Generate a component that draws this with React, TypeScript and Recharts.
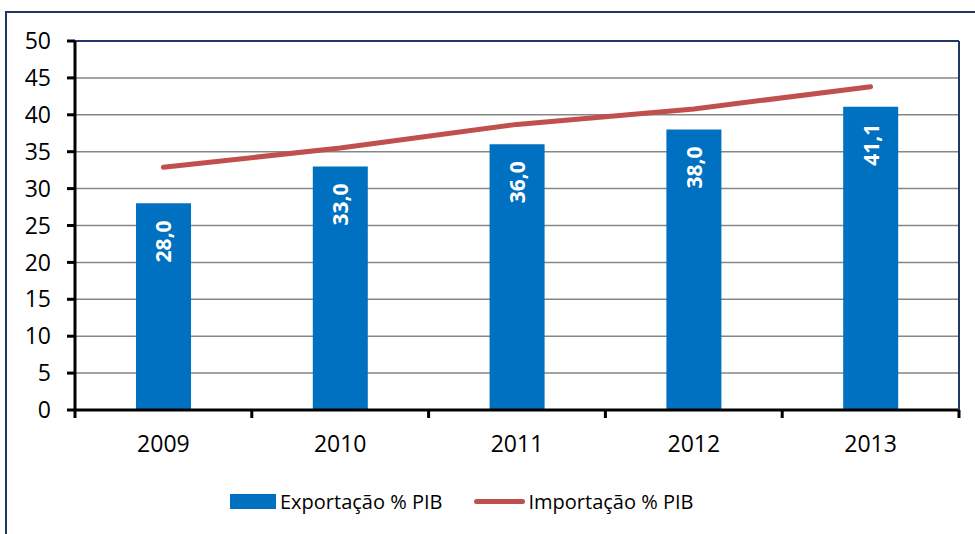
import {
  ComposedChart,
  Bar,
  Line,
  XAxis,
  YAxis,
  CartesianGrid,
  ReferenceLine,
  LabelList,
} from "recharts";

const years = ["2009", "2010", "2011", "2012", "2013"];
const exportacao = [28.0, 33.0, 36.0, 38.0, 41.1];
const importacao = [32.9, 35.5, 38.7, 40.8, 43.8];
const yTicks = [0, 5, 10, 15, 20, 25, 30, 35, 40, 45, 50];

const data = years.map((year, i) => ({
  year,
  exportacao: exportacao[i],
  importacao: importacao[i],
}));

const FONT = "'Open Sans', 'Noto Sans', sans-serif";
const BLUE = "#0070c0";
const RED = "#c0504d";
const NAVY = "#1f3864";

const CHART_W = 975;
const CHART_H = 534;
const PLOT_LEFT = 75;
const PLOT_RIGHT = 959;
const CAT_W = (PLOT_RIGHT - PLOT_LEFT) / years.length;

function XTick(props: any) {
  const { x, y, payload, index } = props;
  const left = x - CAT_W / 2;
  return (
    <g>
      <line x1={left} x2={left} y1={y - 8} y2={y} stroke="#000" strokeWidth={3} />
      {index === years.length - 1 && (
        <line x1={left + CAT_W} x2={left + CAT_W} y1={y - 8} y2={y} stroke="#000" strokeWidth={3} />
      )}
      <text x={x} y={y + 34} textAnchor="middle" fontSize={23} fontFamily={FONT} fill="#000">
        {payload.value}
      </text>
    </g>
  );
}

function BarLabel(props: any) {
  const { x, y, width, value } = props;
  const cx = x + width / 2;
  const ty = y + 17;
  return (
    <text
      x={cx}
      y={ty}
      transform={`rotate(-90, ${cx}, ${ty})`}
      textAnchor="end"
      dominantBaseline="central"
      fill="#fff"
      fontWeight="bold"
      fontSize={21}
      fontFamily={FONT}
    >
      {Number(value).toFixed(1).replace(".", ",")}
    </text>
  );
}

function ChartLegend() {
  return (
    <div
      style={{
        position: "absolute",
        left: 230,
        top: 486,
        height: 30,
        display: "flex",
        alignItems: "center",
        fontFamily: FONT,
        fontSize: 20,
        color: "#000",
        whiteSpace: "nowrap",
      }}
    >
      <span style={{ display: "inline-block", width: 46, height: 15, background: BLUE, marginRight: 4 }} />
      <span>Exportação % PIB</span>
      <span
        style={{
          display: "inline-block",
          width: 51,
          height: 5,
          borderRadius: 3,
          background: RED,
          marginLeft: 32,
          marginRight: 3,
        }}
      />
      <span>Importação % PIB</span>
    </div>
  );
}

export default function App() {
  return (
    <div
      style={{
        position: "absolute",
        left: 0,
        top: 0,
        width: CHART_W,
        height: CHART_H,
        overflow: "hidden",
        background: "#fff",
      }}
    >
      <div
        style={{
          position: "absolute",
          left: 5,
          top: 11,
          width: 1000,
          height: 600,
          border: `2px solid ${NAVY}`,
        }}
      />
      <ComposedChart
        width={CHART_W}
        height={CHART_H}
        data={data}
        margin={{ top: 41, right: 0, bottom: 71, left: 0 }}
        barCategoryGap="34.5%"
        style={{ position: "absolute", left: 0, top: 0 }}
      >
        <CartesianGrid vertical={false} stroke="#868686" strokeWidth={1.5} />
        <XAxis
          dataKey="year"
          axisLine={{ stroke: "#000", strokeWidth: 3 }}
          tickLine={false}
          tick={<XTick />}
          height={53}
          interval={0}
        />
        <YAxis
          domain={[0, 50]}
          ticks={yTicks}
          interval={0}
          width={PLOT_LEFT}
          axisLine={{ stroke: "#000", strokeWidth: 3 }}
          tickLine={{ stroke: "#000", strokeWidth: 3 }}
          tickSize={8}
          tickMargin={16}
          tick={{ fontSize: 23, fill: "#000", fontFamily: FONT }}
        />
        <YAxis
          yAxisId="right"
          orientation="right"
          tick={false}
          tickLine={false}
          width={CHART_W - PLOT_RIGHT}
          axisLine={{ stroke: NAVY, strokeWidth: 2 }}
        />
        <ReferenceLine y={50} stroke={NAVY} strokeWidth={2} />
        <Bar dataKey="exportacao" fill={BLUE} isAnimationActive={false}>
          <LabelList dataKey="exportacao" content={<BarLabel />} />
        </Bar>
        <Line
          type="linear"
          dataKey="importacao"
          stroke={RED}
          strokeWidth={5}
          strokeLinecap="round"
          dot={false}
          activeDot={false}
          isAnimationActive={false}
        />
      </ComposedChart>
      <ChartLegend />
    </div>
  );
}
